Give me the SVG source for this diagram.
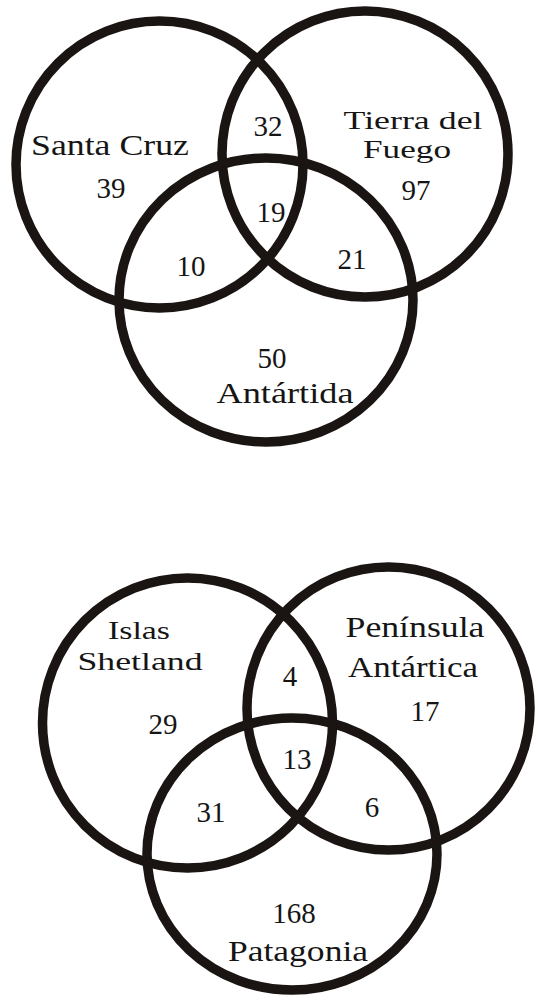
<svg xmlns="http://www.w3.org/2000/svg" width="537" height="997" viewBox="0 0 537 997">
<style>
.c{fill:none;stroke:#1a1412;stroke-width:9.5}
text{font-family:"Liberation Serif","Times New Roman",serif;font-size:29px;fill:#151515;text-anchor:middle}
.m{font-size:26px}
</style>
<rect width="537" height="997" fill="#ffffff"/>
<g id="top">
  <g id="santa-cruz">
    <ellipse class="c" cx="159.5" cy="164.5" rx="143.5" ry="143.5"/>
    <text x="110" y="155" textLength="158" lengthAdjust="spacingAndGlyphs">Santa Cruz</text>
    <text x="111" y="198">39</text>
  </g>
  <g id="tierra-del-fuego">
    <ellipse class="c" cx="365" cy="154" rx="143" ry="143"/>
    <text class="m" x="413" y="129" textLength="139" lengthAdjust="spacingAndGlyphs">Tierra del</text>
    <text class="m" x="407" y="158" textLength="88" lengthAdjust="spacingAndGlyphs">Fuego</text>
    <text x="416" y="200">97</text>
  </g>
  <g id="antartida">
    <ellipse class="c" cx="266" cy="300" rx="147" ry="142"/>
    <text x="272" y="368">50</text>
    <text x="285" y="403" textLength="137" lengthAdjust="spacingAndGlyphs">Antártida</text>
  </g>
  <g id="intersections-top">
    <text x="268" y="136">32</text>
    <text x="271" y="222">19</text>
    <text x="191" y="276">10</text>
    <text x="352" y="269">21</text>
  </g>
</g>
<g id="bottom">
  <g id="islas-shetland">
    <ellipse class="c" cx="187.5" cy="723" rx="145" ry="145"/>
    <text class="m" x="139" y="639" textLength="62" lengthAdjust="spacingAndGlyphs">Islas</text>
    <text class="m" x="140" y="670" textLength="125" lengthAdjust="spacingAndGlyphs">Shetland</text>
    <text x="163" y="734">29</text>
  </g>
  <g id="peninsula-antartica">
    <ellipse class="c" cx="388.5" cy="708.5" rx="141.5" ry="141.5"/>
    <text x="415" y="637" textLength="139" lengthAdjust="spacingAndGlyphs">Península</text>
    <text x="413" y="677" textLength="130" lengthAdjust="spacingAndGlyphs">Antártica</text>
    <text x="425" y="721">17</text>
  </g>
  <g id="patagonia">
    <ellipse class="c" cx="292" cy="854" rx="145" ry="136"/>
    <text x="294" y="923">168</text>
    <text x="298" y="961" textLength="140" lengthAdjust="spacingAndGlyphs">Patagonia</text>
  </g>
  <g id="intersections-bottom">
    <text x="290" y="686">4</text>
    <text x="297" y="769">13</text>
    <text x="211" y="822">31</text>
    <text x="372" y="817">6</text>
  </g>
</g>
<g id="connectors"></g>
</svg>
